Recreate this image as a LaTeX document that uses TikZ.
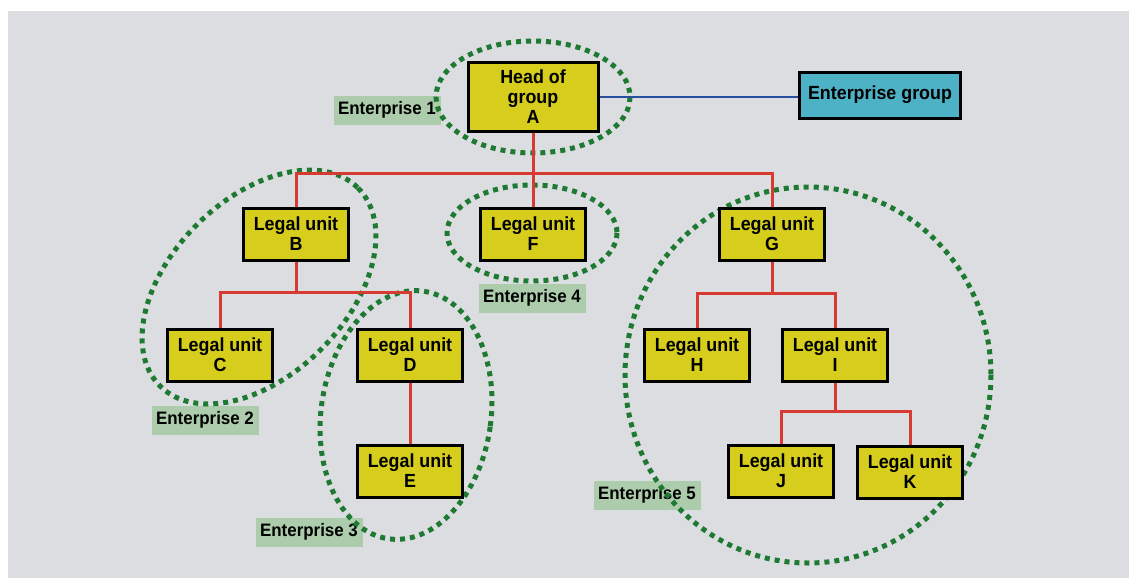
\documentclass[tikz,border=0pt]{standalone}
\usepackage{fontspec}
\setmainfont{Liberation Sans}
\newfontfamily\boxfont{Liberation Sans}[FakeStretch=0.94]
\definecolor{bgGray}{RGB}{220,221,224}
\definecolor{unitYellow}{RGB}{214,205,28}
\definecolor{groupCyan}{RGB}{78,178,198}
\definecolor{tagGreen}{RGB}{172,204,172}
\definecolor{linkRed}{RGB}{214,58,48}
\definecolor{linkBlue}{RGB}{42,78,160}
\definecolor{dotGreen}{RGB}{30,122,50}
\begin{document}
\begin{tikzpicture}
[x=1pt,y=-1pt,%
  unitBox/.style={shape=rectangle,draw=black,line width=3pt,fill=unitYellow,
    minimum width=105pt,minimum height=52pt,inner sep=0pt,align=center,
    font=\boxfont\bfseries\fontsize{19}{20}\selectfont},%
  groupBox/.style={unitBox,fill=groupCyan,minimum width=161pt,minimum height=46pt},%
  entTag/.style={shape=rectangle,fill=tagGreen,minimum width=107pt,minimum height=29pt,
    inner sep=0pt,font=\boxfont\bfseries\fontsize{18}{20}\selectfont},%
  redLine/.style={-,line width=3pt,color=linkRed},%
  blueLine/.style={-,line width=2pt,color=linkBlue},%
  entLoop/.style={color=dotGreen,line width=5pt,dash pattern=on 5pt off 5pt}]
%% background and frame
\useasboundingbox (0,0) rectangle (1129,578);
\fill[bgGray] (8,11) rectangle (1129,578);
%% enterprise tags
\foreach \tagname/\x/\y/\num in {t1/387/110/1, t2/205/420/2, t3/309/532/3, t4/532/298/4, t5/647/495/5}
{
  \node (\tagname) at (\x,\y) [entTag] {Enterprise \num};
}
%% dotted enterprise outlines
\draw[entLoop] (533,97) ellipse [x radius=97, y radius=56];
\draw[entLoop, rotate around={45:(259,287)}] (259,287) ellipse [x radius=140, y radius=88];
\draw[entLoop, rotate around={-8:(406,415)}] (406,415) ellipse [x radius=85, y radius=125];
\draw[entLoop] (532,233) ellipse [x radius=85, y radius=48];
\draw[entLoop] (808,375) ellipse [x radius=183, y radius=188];
%% nodes
\node (A) at (533,97) [unitBox,minimum width=130pt,minimum height=69pt] {Head of\\group\\A};
\node (EG) at (880,95) [groupBox] {Enterprise group};
\foreach \nodename/\x/\y in {B/296/234, C/220/355, D/410/355, E/410/471, F/533/234,
  G/772/234, H/697/355, I/835/355, J/781/471, K/910/472}
{
  \node (\nodename) at (\x,\y) [unitBox] {Legal unit\\\nodename};
}
%% bar points
\coordinate (topBar) at (533,173);
\coordinate (barB) at (B.south |- 0,292);
\coordinate (barG) at (G.south |- 0,293);
\coordinate (barI) at (I.south |- 0,411);
%% red edges or lines
\draw[redLine] (A.south) -- (F.north);
\draw[redLine] (B.north) |- (topBar) -| (G.north);
\draw[redLine] (B.south) -- (barB);
\draw[redLine] (C.north) |- (barB) -| (D.north);
\draw[redLine] (D.south) -- (E.north);
\draw[redLine] (G.south) -- (barG);
\draw[redLine] (H.north) |- (barG) -| (I.north);
\draw[redLine] (I.south) -- (barI);
\draw[redLine] (J.north) |- (barI) -| (K.north);
%% blue line
\draw[blueLine] (A.east) -- (A.east -| EG.west);
\end{tikzpicture}
\end{document}
